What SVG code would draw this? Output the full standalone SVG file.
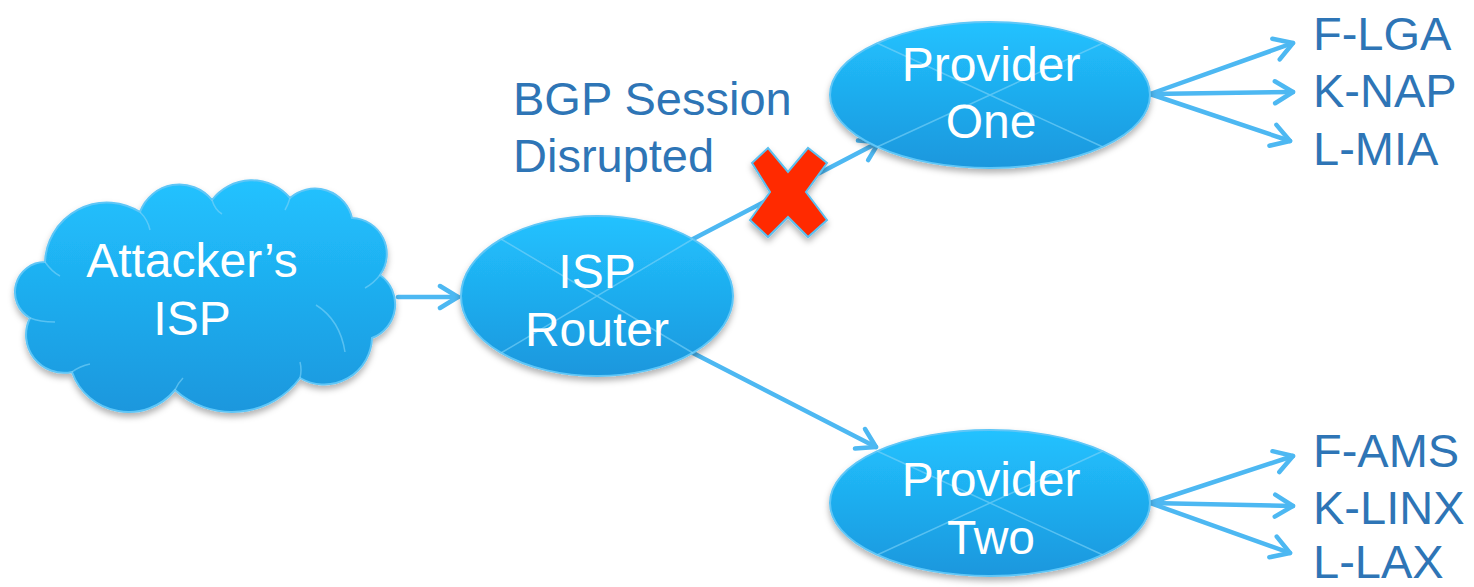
<svg xmlns="http://www.w3.org/2000/svg" width="1474" height="587" viewBox="0 0 1474 587">
<defs>
<linearGradient id="blueGrad" x1="0" y1="0" x2="0" y2="1">
<stop offset="0" stop-color="#22C2FF"/>
<stop offset="1" stop-color="#1A97DD"/>
</linearGradient>
<filter id="shadow" x="-20%" y="-20%" width="140%" height="150%">
<feDropShadow dx="0" dy="4" stdDeviation="3" flood-color="#000" flood-opacity="0.3"/>
</filter>
<marker id="arrow" markerUnits="userSpaceOnUse" markerWidth="28" markerHeight="28" refX="22" refY="14" orient="auto">
<path d="M4,3 L22,14 L4,25" fill="none" stroke="#4DB8F2" stroke-width="4.5" stroke-linecap="round" stroke-linejoin="round"/>
</marker>
</defs>
<style>
.node{fill:url(#blueGrad);stroke:#5EC6F7;stroke-width:2;filter:url(#shadow)}
.inner{stroke:#7FD3F8;stroke-width:1.5;opacity:0.6;fill:none}
.ntext{font-family:"Liberation Sans",Arial,sans-serif;font-size:48px;fill:#FFFFFF;text-anchor:middle}
.label{font-family:"Liberation Sans",Arial,sans-serif;font-size:47px;fill:#2E75B6}
.conn{stroke:#4DB8F2;stroke-width:4.5;fill:none;stroke-linecap:round;marker-end:url(#arrow)}
</style>

<g id="connectors">
<line class="conn" x1="398" y1="297" x2="458" y2="297"/>
<line class="conn" x1="693" y1="239" x2="879" y2="142"/>
<line class="conn" x1="693" y1="353" x2="876" y2="447"/>
<line class="conn" x1="1150" y1="94" x2="1293" y2="43"/>
<line class="conn" x1="1150" y1="94" x2="1293" y2="92"/>
<line class="conn" x1="1150" y1="94" x2="1290" y2="141"/>
<line class="conn" x1="1150" y1="503" x2="1293" y2="456"/>
<line class="conn" x1="1150" y1="503" x2="1293" y2="506"/>
<line class="conn" x1="1150" y1="503" x2="1290" y2="553"/>
</g>

<g id="attackers-isp">
<path class="node" d="M45,262 A62,62 0 0 1 140,212 A42,42 0 0 1 212,200 A50,50 0 0 1 290,198 A38,38 0 0 1 352,218 A36,36 0 0 1 380,275 A36,36 0 0 1 372,338 A48,48 0 0 1 300,378 A85,85 0 0 1 175,390 A60,60 0 0 1 72,372 A38,38 0 0 1 30,318 A30,30 0 0 1 45,262 Z"/>
<path class="inner" d="M45,262 Q52,272 60,276 M140,212 Q148,220 150,230 M212,200 Q215,210 222,214 M290,198 Q288,205 285,210 M380,275 Q374,283 365,288 M316,305 Q340,320 345,352 M300,378 Q302,370 300,362 M175,390 Q178,383 183,378 M72,372 Q80,366 90,364 M30,318 Q40,322 55,322"/>
<text class="ntext" x="192" y="277">Attacker’s</text>
<text class="ntext" x="192" y="335">ISP</text>
</g>

<g id="isp-router">
<ellipse class="node" cx="597" cy="296" rx="136" ry="80"/>
<path class="inner" d="M501,239 L693,353 M501,353 L693,239"/>
<text class="ntext" x="597" y="288">ISP</text>
<text class="ntext" x="597" y="346">Router</text>
</g>

<g id="provider-one">
<ellipse class="node" cx="990" cy="95" rx="160" ry="73"/>
<path class="inner" d="M877,43 L1103,147 M877,147 L1103,43"/>
<text class="ntext" x="991" y="81">Provider</text>
<text class="ntext" x="991" y="138">One</text>
</g>

<g id="provider-two">
<ellipse class="node" cx="990" cy="503" rx="160" ry="73"/>
<path class="inner" d="M877,451 L1103,555 M877,555 L1103,451"/>
<text class="ntext" x="991" y="496">Provider</text>
<text class="ntext" x="991" y="554">Two</text>
</g>

<g id="disrupted-mark">
<polygon points="752,163 768,148 788,172 808,148 827,163 806,192 827,220 808,237 788,217 768,237 750,220 770,192" fill="#FF2A00" stroke="#5BC0F0" stroke-width="2" filter="url(#shadow)"/>
</g>

<g id="bgp-label">
<text class="label" x="513" y="115">BGP Session</text>
<text class="label" x="513" y="172">Disrupted</text>
</g>

<g id="targets-one">
<text class="label" x="1313" y="50">F-LGA</text>
<text class="label" x="1313" y="107">K-NAP</text>
<text class="label" x="1313" y="165">L-MIA</text>
</g>

<g id="targets-two">
<text class="label" x="1313" y="467">F-AMS</text>
<text class="label" x="1313" y="524">K-LINX</text>
<text class="label" x="1313" y="578">L-LAX</text>
</g>
</svg>
